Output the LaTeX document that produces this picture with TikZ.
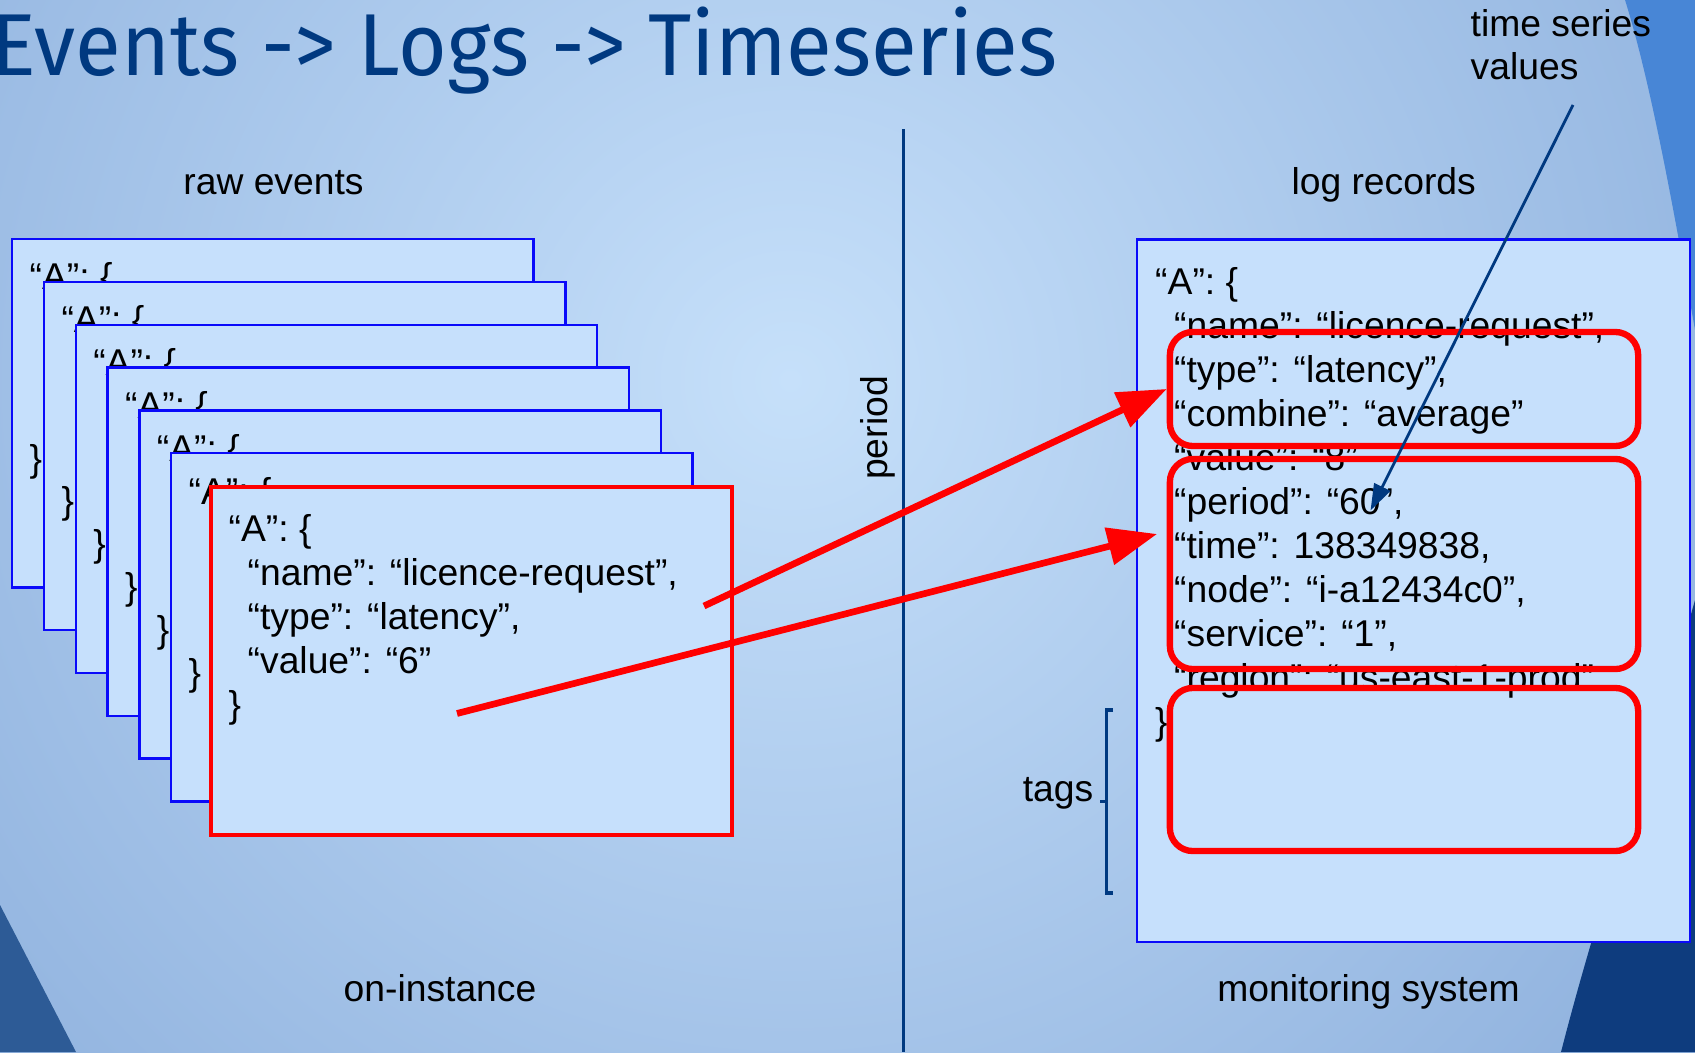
\documentclass[tikz,border=0pt]{standalone}
\usepackage{fontspec}
\setmainfont{Liberation Sans}
\newfontfamily\titlefont[FakeStretch=0.95]{Fira Sans}
\usetikzlibrary{arrows.meta}

\definecolor{cardfill}{RGB}{198,224,252}
\definecolor{cardline}{RGB}{10,10,250}
\definecolor{navy}{RGB}{0,57,128}
\definecolor{bglight}{RGB}{198,224,250}
\definecolor{bgdark}{RGB}{78,122,188}
\definecolor{swoosh}{RGB}{72,134,214}
\definecolor{deepblue}{RGB}{14,60,126}
\definecolor{cornerblue}{RGB}{45,91,150}

\pgfdeclareradialshading{backdrop}{\pgfpoint{0bp}{0bp}}{color(0bp)=(bglight); color(50bp)=(bgdark)}

\newcommand\jsonfont{\fontsize{10.6}{12.5}\selectfont}
\newcommand\ind{\hspace*{5.4pt}}

\begin{document}
\begin{tikzpicture}[x=0.01cm, y=-0.01cm,
    card/.style={draw=cardline, line width=0.7pt, fill=cardfill, minimum width=5.21cm, minimum height=3.48cm, inner sep=0pt, anchor=north west},
    json/.style={anchor=base west, inner sep=0pt, align=left, font=\jsonfont},
    lbl/.style={inner sep=0pt, font=\jsonfont},
    hilite/.style={draw=red, line width=1.8pt, rounded corners=0.23cm, minimum width=4.68cm, inner sep=0pt},
    bigarrow/.style={draw=red, line width=1.9pt, -{Triangle[length=14pt,width=10.5pt]}},
    navyline/.style={draw=navy, line width=1pt}]
  \useasboundingbox (0,0) rectangle (1695,1052);
  \clip (0,0) rectangle (1695,1052);

  % backdrop and corner swooshes
  \fill[shading=backdrop] (790,380) circle (12cm);
  \fill[swoosh] (1625,0) .. controls (1650,80) and (1672,200) .. (1695,330) -- (1695,0) -- cycle;
  \fill[deepblue] (1695,600) .. controls (1650,760) and (1600,900) .. (1561,1052) -- (1695,1052) -- cycle;
  \fill[cornerblue] (0,905) -- (76,1052) -- (0,1052) -- cycle;

  \node[anchor=base east, inner sep=0pt, text=navy, font=\titlefont\fontsize{25}{30}\selectfont] (title) at (1058,76) {Events -> Logs -> Timeseries};

  % stack of raw events (multi-line nodes sit on their last baseline)
  \foreach \k in {0,...,5}{
    \node[card] (card\k) at (11+31.8*\k, 238+42.8*\k) {};
    \node[json] (open\k) at ([shift={(18,52)}]card\k.north west) {“A”: \{};
    \node[json] (close\k) at ([shift={(18,233)}]card\k.north west) {\}};
  }
  \node[card, draw=red, line width=1.1pt] (event) at (209,485) {};
  \node[json] (eventtext) at ([shift={(19,232)}]event.north west)
    {“A”: \{\\\ind“name”: “licence-request”,\\\ind“type”: “latency”,\\\ind“value”: “6”\\\}};

  % log record
  \node[card, minimum width=5.53cm, minimum height=7.02cm] (logbox) at (1135.5,238.5) {};
  \node[json] (logtext) at ([shift={(19,496)}]logbox.north west)
    {“A”: \{\\\ind“name”: “licence-request”,\\\ind“type”: “latency”,\\\ind“combine”: “average”\\%
     \ind“value”: “8”\\\ind“period”: “60”,\\\ind“time”: 138349838,\\\ind“node”: “i-a12434c0”,\\%
     \ind“service”: “1”,\\\ind“region”: “us-east-1-prod”\\\}};
  \node[hilite, minimum height=1.14cm] (fields) at (1404,389) {};
  \node[hilite, minimum height=2.10cm] (meta) at (1404,564) {};
  \node[hilite, minimum height=1.63cm] (extra) at (1404,769.5) {};

  \node[lbl, anchor=base] (rawlabel) at (273.5,194.6) {raw events};
  \node[lbl, anchor=base] (loglabel) at (1383.7,194.6) {log records};
  \node[lbl, anchor=base] (onlabel) at (440,1001.7) {on-instance};
  \node[lbl, anchor=base] (monlabel) at (1368.5,1001.7) {monitoring system};
  \node[lbl, align=left, anchor=base west] (tsv) at (1470,80) {time series\\values};
  \node[lbl, anchor=base east] (tags) at (1094,801) {tags};
  \node[lbl, rotate=90] (period) at (878,428) {period};

  % period divider and tags bracket
  \coordinate (divtop) at (903.5,129.5);
  \coordinate (divbot) at (903.5,1052);
  \draw[navyline] (divtop) -- (divbot);
  \draw[navyline] (1113,710) -- (1106.5,710) -- (1106.5,893) -- (1113,893);
  \draw[navyline] (1106.5,801.5) -- (1100,801.5);

  % mapping arrows
  \coordinate (namespot) at (704,606);
  \coordinate (valuespot) at (457,713.5);
  \coordinate (metaspot) at (1157,534);
  \draw[bigarrow] (namespot) -- (fields.west);
  \draw[bigarrow] (valuespot) -- (metaspot);

  \coordinate (tsvtail) at (1573,105);
  \coordinate (tsvhead) at (1370.5,510.5);
  \draw[navy, line width=0.8pt, -{Triangle[length=7.5pt,width=5pt]}] (tsvtail) -- (tsvhead);
\end{tikzpicture}
\end{document}
